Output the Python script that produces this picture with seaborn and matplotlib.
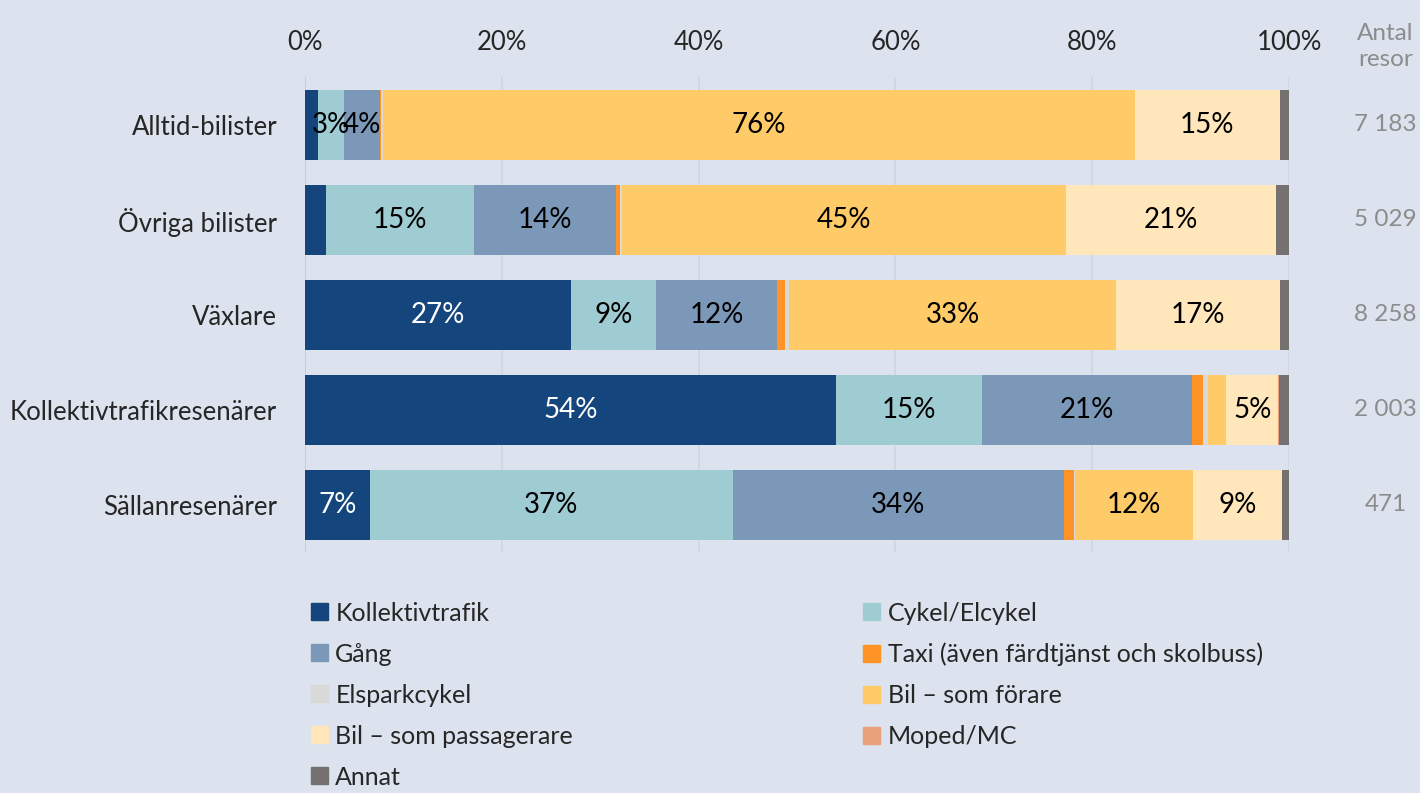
import numpy as np
import pandas as pd
import matplotlib.pyplot as plt
import seaborn as sns

grupper = ['Alltid-bilister', 'Övriga bilister', 'Växlare', 'Kollektivtrafikresenärer', 'Sällanresenärer']
antal = ['7 183', '5 029', '8 258', '2 003', '471']

fardsatt = ['Kollektivtrafik', 'Cykel/Elcykel', 'Gång', 'Taxi (även färdtjänst och skolbuss)',
            'Elsparkcykel', 'Bil – som förare', 'Bil – som passagerare', 'Moped/MC', 'Annat']
kollektiv = [1.3, 2.1, 27.0, 54.0, 6.6]
cykel = [2.7, 15.1, 8.7, 14.8, 36.9]
gang = [3.6, 14.4, 12.3, 21.3, 33.6]
taxi = [0.1, 0.4, 0.8, 1.2, 1.0]
elspark = [0.2, 0.2, 0.4, 0.5, 0.1]
bil_forare = [76.4, 45.1, 33.2, 1.8, 12.0]
bil_pass = [14.8, 21.4, 16.7, 5.3, 9.1]
moped = [0.0, 0.0, 0.0, 0.1, 0.0]
annat = [0.9, 1.3, 0.9, 1.0, 0.7]

farger = ['#14457D', '#9FCCD3', '#7C98B9', '#FF9326', '#D9D9D9',
          '#FFCA68', '#FFE7BB', '#E8A07A', '#767171']

df = pd.DataFrame([kollektiv, cykel, gang, taxi, elspark, bil_forare, bil_pass, moped, annat],
                  index=fardsatt, columns=grupper).T
cum = df.cumsum(axis=1)

bg = '#DCE3EE'
sns.set_style('white')
plt.rcParams['font.family'] = ['Lato', 'DejaVu Sans']

fig = plt.figure(figsize=(14.2, 7.93), dpi=100, facecolor=bg)
ax = fig.add_axes([0.2148, 0.3033, 0.693, 0.599], facecolor=bg)

# staplade staplar: kumulativa summor ritas från störst till minst
for i in range(len(fardsatt) - 1, -1, -1):
    col = fardsatt[i]
    d = pd.DataFrame({'grupp': grupper, 'v': cum[col].values})
    sns.barplot(data=d, x='v', y='grupp', orient='h', color=farger[i],
                saturation=1, width=0.74, ax=ax, linewidth=0, zorder=2)

for r, g in enumerate(grupper):
    for i, col in enumerate(fardsatt):
        v = df.loc[g, col]
        if v >= 2.5:
            x = cum.loc[g, col] - v / 2
            c = 'white' if i == 0 else 'black'
            ax.text(x, r, f'{v:.0f}%', ha='center', va='center', fontsize=20, color=c, zorder=5)
    ax.text(1.098, r, antal[r], transform=ax.get_yaxis_transform(), ha='center', va='center',
            fontsize=17.5, color='#8C8C8C')

ax.text(1.098, 1.065, 'Antal\nresor', transform=ax.transAxes, ha='center', va='center',
        fontsize=17.5, color='#8C8C8C', linespacing=1.25)

ax.set_xlim(0, 100)
ax.set_ylim(4.5, -0.5)
ax.set_xticks(np.arange(0, 101, 20))
ax.set_xticklabels([f'{t}%' for t in range(0, 101, 20)])
ax.xaxis.tick_top()
ax.tick_params(axis='x', length=0, labelsize=18.5, pad=16)
ax.tick_params(axis='y', length=0, labelsize=18.5, pad=20)
ax.set_xlabel('')
ax.set_ylabel('')
ax.grid(axis='x', color='#D0D5DE', linewidth=1.2, zorder=0)
ax.set_axisbelow(True)
for s in ax.spines.values():
    s.set_visible(False)
ax.axvline(0, color='#C6CAD0', linewidth=1.2, zorder=1)

handles = [plt.Rectangle((0, 0), 1, 1, color=c) for c in farger]
left_idx = [0, 2, 4, 6, 8]
right_idx = [1, 3, 5, 7]
kw = dict(frameon=False, fontsize=18, handlelength=0.67, handleheight=0.67,
          handletextpad=0.3, labelspacing=0.72, loc='upper left', borderaxespad=0)
fig.legend([handles[i] for i in left_idx], [fardsatt[i] for i in left_idx],
           bbox_to_anchor=(0.212, 0.254), **kw)
fig.legend([handles[i] for i in right_idx], [fardsatt[i] for i in right_idx],
           bbox_to_anchor=(0.601, 0.254), **kw)

fig.savefig('out.png', dpi=100, facecolor=bg)
